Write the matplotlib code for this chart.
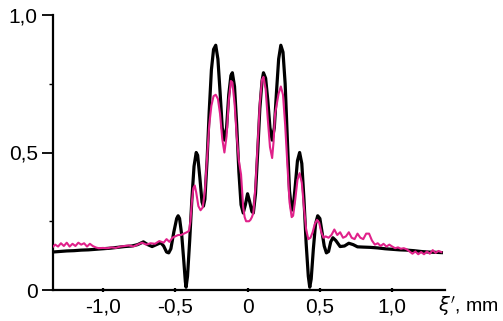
import numpy as np
import matplotlib.pyplot as plt
from matplotlib.ticker import FixedLocator

# black curve (calculated)
x_black = [-1.35, -1.30, -1.25, -1.20, -1.15, -1.10, -1.05, -1.00, -0.95, -0.90,
           -0.85, -0.80, -0.76, -0.72, -0.69, -0.66, -0.63, -0.60, -0.58, -0.56,
           -0.545, -0.53, -0.51, -0.49, -0.48, -0.47, -0.455, -0.44, -0.43, -0.425,
           -0.415, -0.40, -0.385, -0.37, -0.355, -0.345, -0.33, -0.315, -0.305, -0.295,
           -0.28, -0.265, -0.25, -0.235, -0.22, -0.205, -0.19, -0.175, -0.16, -0.145,
           -0.13, -0.115, -0.105, -0.09, -0.075, -0.06, -0.045, -0.03, -0.015, 0.0,
           0.015, 0.03, 0.04, 0.055, 0.07, 0.085, 0.10, 0.11, 0.125, 0.14,
           0.155, 0.17, 0.185, 0.20, 0.215, 0.23, 0.245, 0.26, 0.275, 0.29,
           0.305, 0.315, 0.33, 0.345, 0.36, 0.375, 0.39, 0.405, 0.42, 0.43,
           0.44, 0.455, 0.47, 0.485, 0.50, 0.515, 0.53, 0.545, 0.56, 0.575,
           0.59, 0.61, 0.64, 0.67, 0.70, 0.73, 0.76, 0.80, 0.85, 0.90,
           0.95, 1.00, 1.05, 1.10, 1.15, 1.20, 1.25, 1.30, 1.34]
y_black = [0.138, 0.140, 0.142, 0.143, 0.145, 0.146, 0.148, 0.150, 0.152, 0.155,
           0.158, 0.160, 0.165, 0.175, 0.165, 0.158, 0.165, 0.172, 0.160, 0.138,
           0.135, 0.150, 0.210, 0.260, 0.270, 0.260, 0.200, 0.100, 0.030, 0.010,
           0.050, 0.180, 0.330, 0.450, 0.500, 0.490, 0.410, 0.320, 0.305, 0.330,
           0.470, 0.650, 0.800, 0.875, 0.890, 0.840, 0.720, 0.590, 0.545, 0.590,
           0.710, 0.780, 0.790, 0.740, 0.600, 0.430, 0.310, 0.280, 0.310, 0.350,
           0.320, 0.285, 0.280, 0.350, 0.500, 0.660, 0.760, 0.790, 0.770, 0.690,
           0.590, 0.545, 0.590, 0.720, 0.840, 0.890, 0.865, 0.750, 0.550, 0.360,
           0.290, 0.295, 0.380, 0.470, 0.500, 0.460, 0.330, 0.170, 0.050, 0.010,
           0.040, 0.150, 0.240, 0.270, 0.260, 0.210, 0.160, 0.135, 0.140, 0.175,
           0.190, 0.180, 0.158, 0.160, 0.170, 0.165, 0.157, 0.156, 0.155, 0.153,
           0.150, 0.148, 0.146, 0.145, 0.143, 0.140, 0.138, 0.137, 0.136]

# magenta curve (measured)
x_mag = [-1.35, -1.33, -1.31, -1.29, -1.27, -1.25, -1.23, -1.21, -1.19, -1.17,
         -1.15, -1.13, -1.11, -1.09, -1.07, -1.05, -1.03, -1.00, -0.97, -0.94,
         -0.91, -0.88, -0.85, -0.82, -0.79, -0.76, -0.73, -0.70, -0.67, -0.64,
         -0.61, -0.58, -0.56, -0.54, -0.52, -0.50, -0.48, -0.46, -0.44, -0.42,
         -0.405, -0.395, -0.385, -0.375, -0.365, -0.355, -0.34, -0.325, -0.31, -0.295,
         -0.28, -0.265, -0.25, -0.235, -0.22, -0.205, -0.19, -0.175, -0.16, -0.145,
         -0.13, -0.115, -0.105, -0.09, -0.075, -0.06, -0.045, -0.03, -0.02, -0.01,
         0.0, 0.01, 0.02, 0.03, 0.04, 0.055, 0.07, 0.085, 0.10, 0.11,
         0.125, 0.14, 0.155, 0.17, 0.18, 0.19, 0.20, 0.215, 0.23, 0.245,
         0.26, 0.275, 0.29, 0.305, 0.315, 0.33, 0.345, 0.36, 0.375, 0.39,
         0.405, 0.42, 0.435, 0.45, 0.465, 0.48, 0.495, 0.51, 0.525, 0.54,
         0.56, 0.58, 0.60, 0.62, 0.64, 0.66, 0.68, 0.70, 0.72, 0.74,
         0.76, 0.78, 0.80, 0.82, 0.84, 0.86, 0.88, 0.90, 0.92, 0.94,
         0.96, 0.98, 1.00, 1.02, 1.04, 1.06, 1.08, 1.10, 1.12, 1.14,
         1.16, 1.18, 1.20, 1.22, 1.24, 1.26, 1.28, 1.30, 1.32, 1.34]
y_mag = [0.155, 0.165, 0.158, 0.170, 0.160, 0.172, 0.158, 0.168, 0.160, 0.172,
         0.165, 0.170, 0.158, 0.168, 0.160, 0.155, 0.152, 0.153, 0.152, 0.155,
         0.153, 0.158, 0.160, 0.162, 0.158, 0.165, 0.172, 0.165, 0.170, 0.168,
         0.178, 0.172, 0.185, 0.175, 0.190, 0.195, 0.200, 0.200, 0.205, 0.210,
         0.215, 0.250, 0.320, 0.370, 0.380, 0.355, 0.305, 0.290, 0.300, 0.360,
         0.480, 0.600, 0.670, 0.705, 0.710, 0.695, 0.640, 0.550, 0.500, 0.560,
         0.690, 0.760, 0.755, 0.680, 0.560, 0.470, 0.420, 0.300, 0.265, 0.250,
         0.250, 0.250, 0.255, 0.265, 0.280, 0.380, 0.530, 0.680, 0.765, 0.775,
         0.730, 0.620, 0.520, 0.480, 0.540, 0.640, 0.670, 0.715, 0.740, 0.710,
         0.600, 0.460, 0.320, 0.265, 0.270, 0.330, 0.400, 0.425, 0.390, 0.300,
         0.220, 0.185, 0.190, 0.210, 0.240, 0.255, 0.245, 0.210, 0.190, 0.195,
         0.190, 0.200, 0.220, 0.200, 0.210, 0.190, 0.195, 0.210, 0.190, 0.185,
         0.205, 0.190, 0.185, 0.205, 0.205, 0.180, 0.165, 0.170, 0.160, 0.168,
         0.158, 0.165, 0.158, 0.152, 0.155, 0.150, 0.152, 0.148, 0.140, 0.132,
         0.140, 0.130, 0.138, 0.130, 0.140, 0.132, 0.145, 0.135, 0.142, 0.138]

x_ticks = [-1.0, -0.5, 0.0, 0.5, 1.0]
x_labels = ['-1,0', '-0,5', '0', '0,5', '1,0']
y_ticks = [0.0, 0.5, 1.0]
y_labels = ['0', '0,5', '1,0']

plt.rcParams['font.family'] = ['Liberation Sans', 'DejaVu Sans']

fig = plt.figure(figsize=(5.03, 3.21), dpi=100)
ax = fig.add_axes([53/503, 31/321, 392/503, 275/321])

ax.plot(x_black, y_black, color='black', lw=2.3, zorder=2)
ax.plot(x_mag, y_mag, color='#e0218a', lw=1.5, zorder=3)

ax.set_xlim(-1.345, 1.365)
ax.set_ylim(0, 1.0)
ax.spines['top'].set_visible(False)
ax.spines['right'].set_visible(False)
ax.spines['left'].set_linewidth(1.6)
ax.spines['bottom'].set_linewidth(1.6)
ax.spines['left'].set_bounds(0, 1.0)

ax.set_xticks(x_ticks)
ax.set_xticklabels(x_labels, fontsize=15)
ax.set_yticks(y_ticks)
ax.set_yticklabels(y_labels, fontsize=15)
ax.yaxis.set_minor_locator(FixedLocator([0.25, 0.75]))
ax.tick_params(axis='y', which='major', length=8, width=1.3, direction='out', pad=3)
ax.tick_params(axis='y', which='minor', length=3, width=1.0, direction='out')
ax.tick_params(axis='x', which='major', length=3, width=1.6, direction='inout', pad=4)

# axis label at the end of the x axis
fig.text(438/503, 15/321, r"$\xi'$, mm", fontsize=14, ha='left', va='center')

fig.savefig('out.png', dpi=100)
